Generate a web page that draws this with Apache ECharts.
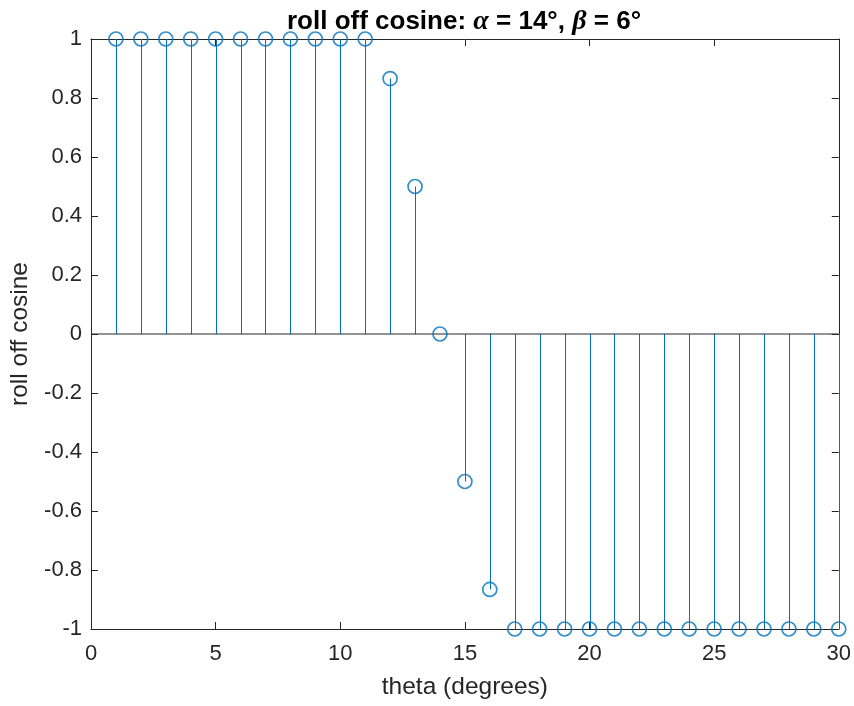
<!DOCTYPE html>
<html><head><meta charset="utf-8">
<script src="https://cdn.jsdelivr.net/npm/echarts@6/dist/echarts.min.js"></script>
<style>html,body{margin:0;padding:0;background:#fff}#c{width:854px;height:706px}</style>
</head><body><div id="c"></div>
<script>
var theta = [1,2,3,4,5,6,7,8,9,10,11,12,13,14,15,16,17,18,19,20,21,22,23,24,25,26,27,28,29,30];
var rollOff = [1,1,1,1,1,1,1,1,1,1,1,0.866,0.5,0,-0.5,-0.866,-1,-1,-1,-1,-1,-1,-1,-1,-1,-1,-1,-1,-1,-1];
var xTicks = [0,5,10,15,20,25,30];
var yTicks = [-1,-0.8,-0.6,-0.4,-0.2,0,0.2,0.4,0.6,0.8,1];

var pts = theta.map(function(t,i){return [t, rollOff[i]];});
var blue = '#0072BD', ax = '#262626';
var font = 'Liberation Sans, Arial, Helvetica, sans-serif';

var chart = echarts.init(document.getElementById('c'), null, {renderer:'canvas'});
function xAxisDef(show){
  return {type:'value', min:xTicks[0], max:xTicks[xTicks.length-1], interval:5, position: show?'bottom':'top',
    axisLine:{show:true, onZero:false, lineStyle:{color:ax, width:1}},
    axisTick:{show:true, inside:true, length:7, lineStyle:{color:ax}},
    axisLabel:{show:show, color:ax, fontSize:22, fontFamily:font, margin:14},
    splitLine:{show:false},
    name: show ? 'theta (degrees)' : '', nameLocation:'middle', nameGap:46,
    nameTextStyle:{color:ax, fontSize:24.5, fontFamily:font}};
}
function yAxisDef(show){
  return {type:'value', min:yTicks[0], max:yTicks[yTicks.length-1], interval:0.2, position: show?'left':'right',
    axisLine:{show:true, onZero:false, lineStyle:{color:ax, width:1}},
    axisTick:{show:true, inside:true, length:7, lineStyle:{color:ax}},
    axisLabel:{show:show, color:ax, fontSize:22, fontFamily:font, margin:9,
      formatter:function(v){var r=Math.round(v*10)/10; return String(r);}},
    splitLine:{show:false},
    name: show ? 'roll off cosine' : '', nameLocation:'middle', nameGap:57,
    nameTextStyle:{color:ax, fontSize:24.5, fontFamily:font}};
}
chart.setOption({
  animation:false,
  title:{left:459, textAlign:'center', top:3,
    text:'{b|roll off cosine: }{g|α}{b| = 14°, }{g|β}{b| = 6°}',
    textStyle:{rich:{
      b:{fontSize:26, fontWeight:'bold', fontFamily:font, color:'#000'},
      g:{fontSize:28, fontStyle:'italic', fontWeight:'bold', fontFamily:'Liberation Serif, DejaVu Serif, serif', color:'#000'}
    }}},
  grid:{left:91, right:15, top:39, bottom:77, containLabel:false},
  xAxis:[xAxisDef(true), xAxisDef(false)],
  yAxis:[yAxisDef(true), yAxisDef(false)],
  series:[
    {type:'custom', xAxisIndex:0, yAxisIndex:0, data:pts, silent:true,
      renderItem:function(params, api){
        var p0 = api.coord([api.value(0), 0]);
        var p1 = api.coord([api.value(0), api.value(1)]);
        return {type:'line', shape:{x1:Math.round(p0[0])+0.5,y1:p0[1],x2:Math.round(p1[0])+0.5,y2:p1[1]},
          style:{stroke:blue, lineWidth:1}};
      }},
    {type:'line', xAxisIndex:0, yAxisIndex:0, data:[[0,0],[30,0]], symbol:'none', silent:true,
      lineStyle:{color:ax, width:1}, z:3},
    {type:'scatter', xAxisIndex:0, yAxisIndex:0, data:pts, symbol:'circle', symbolSize:14,
      itemStyle:{color:'rgba(0,0,0,0)', borderColor:blue, borderWidth:1.7}, z:5, silent:true}
  ]
});
</script></body></html>
